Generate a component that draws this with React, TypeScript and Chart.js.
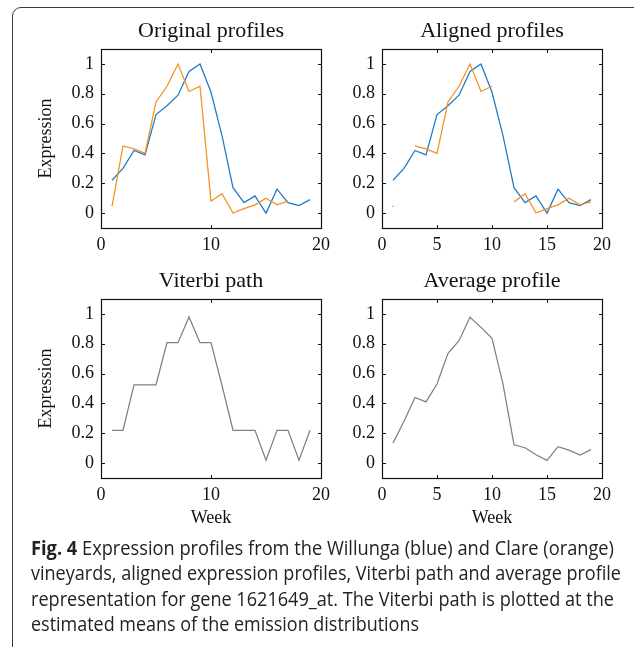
import React, { useEffect, useLayoutEffect, useRef } from "react";
import { Chart, registerables } from "chart.js";

Chart.register(...registerables);

// ---------- data ----------
const weeks = [1, 2, 3, 4, 5, 6, 7, 8, 9, 10, 11, 12, 13, 14, 15, 16, 17, 18, 19];
const willunga = [0.22, 0.3, 0.42, 0.39, 0.66, 0.72, 0.79, 0.95, 1.0, 0.81, 0.52, 0.17, 0.07, 0.115, 0.0, 0.16, 0.07, 0.05, 0.09];
const clareWeeks = [1, 2, 3, 4, 5, 6, 7, 8, 9, 10, 11, 12, 13, 14, 15, 16, 17];
const clare = [0.045, 0.45, 0.43, 0.4, 0.745, 0.85, 1.0, 0.815, 0.85, 0.08, 0.13, 0.0, 0.03, 0.055, 0.1, 0.055, 0.08];
const clareAligned = [0.045, null, 0.45, 0.43, 0.4, 0.745, 0.85, 1.0, 0.815, 0.85, null, 0.075, 0.13, 0.0, 0.03, 0.055, 0.1, 0.055, 0.075];
const viterbiPath = [0.22, 0.22, 0.525, 0.525, 0.525, 0.807, 0.807, 0.98, 0.807, 0.807, 0.52, 0.22, 0.22, 0.22, 0.02, 0.22, 0.22, 0.02, 0.22];
const averageProfile = [0.134, 0.28, 0.44, 0.41, 0.53, 0.736, 0.82, 0.978, 0.91, 0.837, 0.53, 0.123, 0.103, 0.056, 0.018, 0.11, 0.087, 0.054, 0.09];

const xTicksCoarse = [0, 10, 20];
const xTicksFine = [0, 5, 10, 15, 20];
const yTicks = [0, 0.2, 0.4, 0.6, 0.8, 1];

const panelTitles = ["Original profiles", "Aligned profiles", "Viterbi path", "Average profile"];
const yAxisTitle = "Expression";
const xAxisTitle = "Week";

const captionBold = "Fig. 4";
const captionLines = [
  " Expression profiles from the Willunga (blue) and Clare (orange)",
  "vineyards, aligned expression profiles, Viterbi path and average profile",
  "representation for gene 1621649_at. The Viterbi path is plotted at the",
  "estimated means of the emission distributions",
];
const captionWidths = [583, 590, 583, 388];

// ---------- style ----------
const BLUE = "#1f78c4";
const ORANGE = "#f4901c";
const GRAY = "#808080";
const SERIF = "'Liberation Serif', 'Times New Roman', serif";

const PLOT_W = 220;
const PLOT_H = 179;
const SIDE = 85;
const TITLE_H = 40;

const pts = (xs: number[], ys: (number | null)[]) => xs.map((x, i) => ({ x, y: ys[i] }));

const makeBoxPlugin = (title: string) => ({
  id: "boxTicks",
  afterDatasetsDraw(chart: any) {
    const { ctx, chartArea: a, scales } = chart;
    ctx.save();
    ctx.strokeStyle = "#111";
    ctx.lineWidth = 1.2;
    const L = Math.round(a.left) + 0.5;
    const R = Math.round(a.right) + 0.5;
    const T = Math.round(a.top) + 0.5;
    const B = Math.round(a.bottom) + 0.5;
    ctx.strokeRect(L, T, R - L, B - T);
    ctx.lineWidth = 1;
    const tl = 3.5;
    ctx.beginPath();
    scales.x.ticks.forEach((t: any) => {
      const p = Math.round(scales.x.getPixelForValue(t.value)) + 0.5;
      ctx.moveTo(p, B);
      ctx.lineTo(p, B - tl);
      ctx.moveTo(p, T);
      ctx.lineTo(p, T + tl);
    });
    scales.y.ticks.forEach((t: any) => {
      const p = Math.round(scales.y.getPixelForValue(t.value)) + 0.5;
      ctx.moveTo(L, p);
      ctx.lineTo(L + tl, p);
      ctx.moveTo(R, p);
      ctx.lineTo(R - tl, p);
    });
    ctx.stroke();
    // panel title centred over the plot box
    ctx.fillStyle = "#111";
    ctx.font = `22px ${SERIF}`;
    ctx.textAlign = "center";
    ctx.textBaseline = "alphabetic";
    ctx.fillText(title, (a.left + a.right) / 2, a.top - 12);
    ctx.restore();
  },
});

type PanelProps = {
  title: string;
  left: number;
  top: number;
  xTicks: number[];
  datasets: any[];
  yTitle: boolean;
  xTitle: boolean;
};

function Panel({ title, left, top, xTicks, datasets, yTitle, xTitle }: PanelProps) {
  const ref = useRef<HTMLCanvasElement | null>(null);
  const bottomH = xTitle ? 60 : 35;
  const width = SIDE * 2 + PLOT_W;
  const height = TITLE_H + PLOT_H + bottomH;

  useEffect(() => {
    if (!ref.current) return;
    const chart = new Chart(ref.current, {
      type: "line",
      data: { datasets },
      plugins: [makeBoxPlugin(title)],
      options: {
        animation: false,
        responsive: false,
        devicePixelRatio: 1,
        layout: { padding: { left: 0, top: TITLE_H, right: SIDE, bottom: 0 } },
        plugins: {
          legend: { display: false },
          tooltip: { enabled: false },
          title: { display: false },
        },
        scales: {
          x: {
            type: "linear",
            min: 0,
            max: 20,
            grid: { display: false, drawTicks: false },
            border: { display: false },
            afterBuildTicks: (s: any) => {
              s.ticks = xTicks.map((v) => ({ value: v }));
            },
            afterFit: (s: any) => {
              s.height = bottomH;
            },
            ticks: {
              autoSkip: false,
              maxRotation: 0,
              padding: 6,
              color: "#111",
              font: { family: SERIF, size: 18 },
              callback: (v: any) => String(v),
            },
            title: {
              display: xTitle,
              text: xAxisTitle,
              color: "#111",
              font: { family: SERIF, size: 18 },
              padding: { top: 0, bottom: 9 },
            },
          },
          y: {
            type: "linear",
            min: -0.1,
            max: 1.1,
            grid: { display: false, drawTicks: false },
            border: { display: false },
            afterBuildTicks: (s: any) => {
              s.ticks = yTicks.map((v) => ({ value: v }));
            },
            afterFit: (s: any) => {
              s.width = SIDE;
            },
            ticks: {
              autoSkip: false,
              padding: 7,
              color: "#111",
              font: { family: SERIF, size: 18 },
              callback: (v: any) => String(Math.round(Number(v) * 10) / 10),
            },
            title: {
              display: yTitle,
              text: yAxisTitle,
              color: "#111",
              font: { family: SERIF, size: 18 },
              padding: { top: 19, bottom: 0 },
            },
          },
        },
      } as any,
    });
    return () => chart.destroy();
  }, []);

  return (
    <canvas
      ref={ref}
      width={width}
      height={height}
      style={{ position: "absolute", left: left - SIDE, top: top - TITLE_H, width, height }}
    />
  );
}

const lineDs = (data: any[], color: string, extra: any = {}) => ({
  data,
  borderColor: color,
  backgroundColor: color,
  borderWidth: 1.25,
  pointRadius: 0,
  tension: 0,
  spanGaps: false,
  fill: false,
  ...extra,
});

function Caption() {
  const refs = useRef<(HTMLSpanElement | null)[]>([]);
  useLayoutEffect(() => {
    const fit = () => {
      refs.current.forEach((el, i) => {
        if (!el) return;
        el.style.transform = "none";
        const w = el.getBoundingClientRect().width;
        if (w > 0) el.style.transform = `scaleX(${captionWidths[i] / w})`;
      });
    };
    fit();
    (document as any).fonts?.ready?.then(fit);
  }, []);
  return (
    <div
      style={{
        position: "absolute",
        left: 31,
        top: 535,
        fontFamily: "'Open Sans', 'Noto Sans', sans-serif",
        fontSize: 19.5,
        lineHeight: "25.4px",
        color: "#222",
      }}
    >
      {captionLines.map((line, i) => (
        <div key={i} style={{ height: 25.4, whiteSpace: "nowrap" }}>
          <span
            ref={(el) => {
              refs.current[i] = el;
            }}
            style={{ display: "inline-block", transformOrigin: "left center", whiteSpace: "pre" }}
          >
            {i === 0 ? <b style={{ fontWeight: 700 }}>{captionBold}</b> : null}
            {line}
          </span>
        </div>
      ))}
    </div>
  );
}

export default function App() {
  const panels: PanelProps[] = [
    {
      title: panelTitles[0],
      left: 101,
      top: 49,
      xTicks: xTicksCoarse,
      yTitle: true,
      xTitle: false,
      datasets: [lineDs(pts(clareWeeks, clare), ORANGE), lineDs(pts(weeks, willunga), BLUE)],
    },
    {
      title: panelTitles[1],
      left: 382,
      top: 49,
      xTicks: xTicksFine,
      yTitle: false,
      xTitle: false,
      datasets: [
        lineDs(pts(weeks, clareAligned), ORANGE, {
          pointRadius: (c: any) => (c.dataIndex === 0 ? 0.8 : 0),
          pointBorderWidth: 0,
        }),
        lineDs(pts(weeks, willunga), BLUE),
      ],
    },
    {
      title: panelTitles[2],
      left: 101,
      top: 299,
      xTicks: xTicksCoarse,
      yTitle: true,
      xTitle: true,
      datasets: [lineDs(pts(weeks, viterbiPath), GRAY)],
    },
    {
      title: panelTitles[3],
      left: 382,
      top: 299,
      xTicks: xTicksFine,
      yTitle: false,
      xTitle: true,
      datasets: [lineDs(pts(weeks, averageProfile), GRAY)],
    },
  ];

  return (
    <div
      style={{
        position: "absolute",
        left: 0,
        top: 0,
        width: 634,
        height: 647,
        overflow: "hidden",
        background: "#fff",
      }}
    >
      <div
        style={{
          position: "absolute",
          left: 12,
          top: 7,
          width: 660,
          height: 700,
          border: "1px solid #3a3a3a",
          borderRadius: 9,
          boxSizing: "border-box",
        }}
      />
      {panels.map((p, i) => (
        <Panel key={i} {...p} />
      ))}
      <Caption />
    </div>
  );
}
